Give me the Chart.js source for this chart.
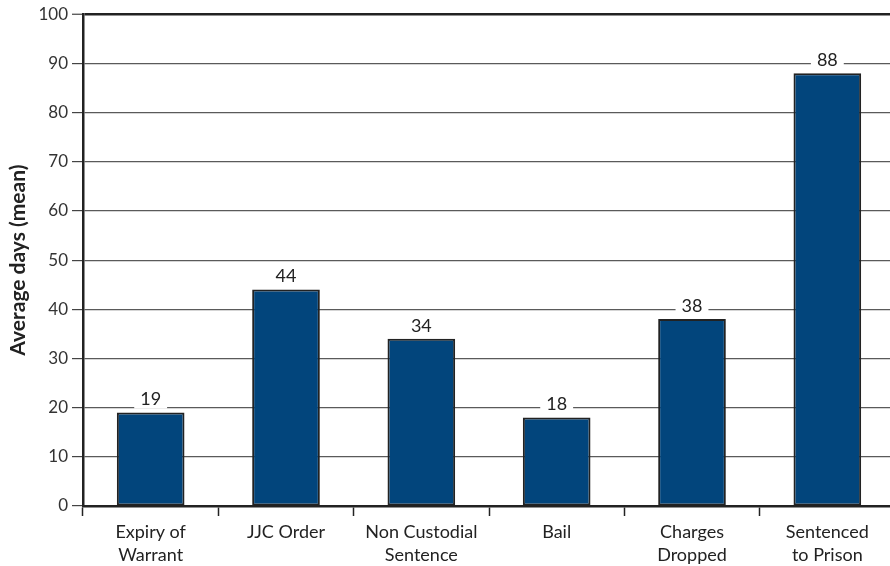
<!DOCTYPE html>
<html>
<head>
<meta charset="utf-8">
<script src="https://cdn.jsdelivr.net/npm/chart.js@4/dist/chart.umd.min.js"></script>
<style>
  html, body { margin: 0; padding: 0; background: #fff; }
  #wrap { width: 890px; height: 566px; }
</style>
</head>
<body>
<div id="wrap"><canvas id="c" width="890" height="566"></canvas></div>
<script>
// Average days in custody by outcome
const categories = [
  ['Expiry of', 'Warrant'],
  'JJC Order',
  ['Non Custodial', 'Sentence'],
  'Bail',
  ['Charges', 'Dropped'],
  ['Sentenced', 'to Prison']
];
const averageDays = [19, 44, 34, 18, 38, 88];
const yTicks = [0, 10, 20, 30, 40, 50, 60, 70, 80, 90, 100];

const FONT = 'Lato, "Open Sans", sans-serif';
const BAR_FILL = '#02457c';
const INK = '#222';
const PLOT_RIGHT = 895; // last category runs slightly past the canvas edge

// Let the plot area run past the right edge of the canvas
const widenPlot = {
  id: 'widenPlot',
  afterLayout(chart) {
    const area = chart.chartArea;
    area.right = PLOT_RIGHT;
    area.width = area.right - area.left;
    const x = chart.scales.x;
    x.right = PLOT_RIGHT;
    x.width = x.right - x.left;
    x.configure();
    chart.scales.y.configure();
  }
};

// Value labels above each bar, on a white patch that breaks the grid line
const valueLabels = {
  id: 'valueLabels',
  afterDatasetsDraw(chart) {
    const ctx = chart.ctx;
    const meta = chart.getDatasetMeta(0);
    ctx.save();
    ctx.font = '18px ' + FONT;
    ctx.textAlign = 'center';
    ctx.textBaseline = 'middle';
    meta.data.forEach((bar, i) => {
      const txt = String(averageDays[i]);
      const w = ctx.measureText(txt).width + 12;
      const cy = bar.y - 14;
      ctx.fillStyle = '#fff';
      ctx.fillRect(bar.x - w / 2, cy - 10, w, 20);
      ctx.fillStyle = INK;
      ctx.fillText(txt, bar.x, cy + 1);
    });
    ctx.restore();
  }
};

new Chart(document.getElementById('c'), {
  type: 'bar',
  data: {
    labels: categories,
    datasets: [{
      data: averageDays,
      backgroundColor: BAR_FILL,
      borderColor: INK,
      borderWidth: 2,
      borderSkipped: false,
      barPercentage: 0.5,
      categoryPercentage: 1.0
    }]
  },
  options: {
    responsive: false,
    animation: false,
    layout: { padding: { top: 14, right: 0, bottom: 0, left: 0 } },
    plugins: {
      legend: { display: false },
      tooltip: { enabled: false }
    },
    scales: {
      x: {
        offset: true,
        afterFit(scale) { scale.height = 60; },
        grid: {
          offset: true,
          drawOnChartArea: false,
          drawTicks: true,
          tickLength: 10,
          tickColor: INK,
          tickWidth: 1.5
        },
        border: { display: true, color: INK, width: 2.5 },
        ticks: {
          color: INK,
          font: { family: FONT, size: 18, lineHeight: 1.3 },
          padding: 4,
          maxRotation: 0,
          autoSkip: false
        }
      },
      y: {
        min: 0,
        max: 100,
        afterFit(scale) { scale.width = 83; },
        afterBuildTicks(scale) { scale.ticks = yTicks.map(v => ({ value: v })); },
        grid: {
          color: ctx => ctx.tick && ctx.tick.value === 100 ? INK : '#5a5a5a',
          lineWidth: ctx => ctx.tick && ctx.tick.value === 100 ? 2.5 : 1.2,
          tickLength: 11,
          tickColor: '#444',
          tickWidth: 1.2
        },
        border: { display: true, color: INK, width: 2.5 },
        title: {
          display: true,
          text: 'Average days (mean)',
          color: INK,
          font: { family: FONT, size: 21, weight: 'bold' },
          padding: { top: 6, bottom: 0 }
        },
        ticks: {
          color: '#333',
          font: { family: FONT, size: 17 },
          padding: 4
        }
      }
    }
  },
  plugins: [widenPlot, valueLabels]
});
</script>
</body>
</html>
